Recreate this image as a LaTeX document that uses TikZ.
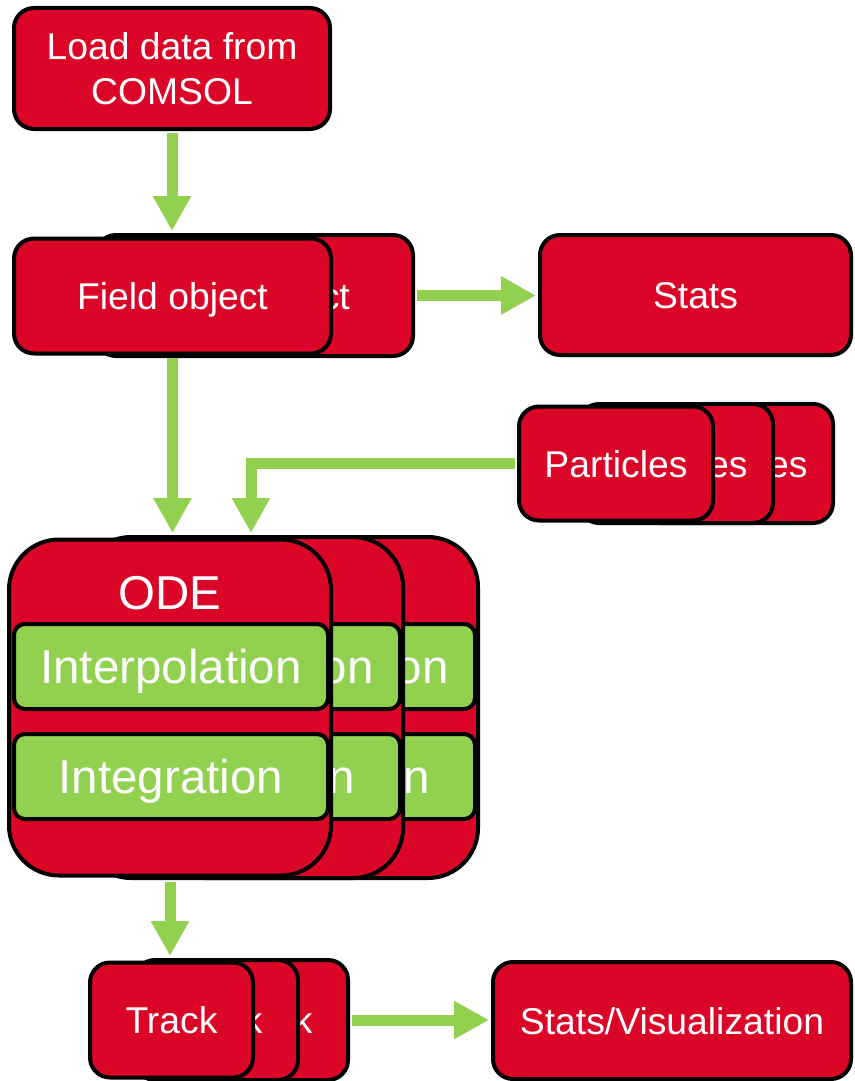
\documentclass[tikz,border=0pt]{standalone}
\usepackage{fontspec}
\setmainfont{Liberation Sans}
\usetikzlibrary{arrows.meta}
\definecolor{myred}{RGB}{219,5,40}
\definecolor{mygreen}{RGB}{146,208,80}
\newcommand{\fsmall}{\fontsize{37.3}{45}\selectfont}
\newcommand{\flarge}{\fontsize{47.5}{57}\selectfont}
\tikzset{
  redbox/.style={draw=black, line width=4pt, fill=myred, rounded corners=20pt,
    inner sep=0pt, text=white, font=\fsmall},
  oneline/.style={text height=27pt, text depth=0pt},
  odebox/.style={draw=black, line width=4pt, fill=myred, rounded corners=50pt,
    inner sep=0pt, minimum width=322pt},
  odetitle/.style={inner sep=0pt, text=white, font=\flarge, text height=34pt, text depth=0pt},
  greenbox/.style={draw=black, line width=4pt, fill=mygreen, rounded corners=11pt,
    inner sep=0pt, text=white, font=\flarge, text height=34pt, text depth=0pt,
    minimum width=314pt, minimum height=85pt},
  flow/.style={draw=mygreen, line width=11pt, line join=miter,
    -{Triangle[width=36pt,length=35pt]}, shorten >=2pt, shorten <=2pt},
}
\begin{document}
\begin{tikzpicture}[x=1pt,y=-1pt]
\useasboundingbox (0,0) rectangle (854,1081);

% Load data
\node[redbox, align=center, minimum width=316pt, minimum height=121pt] (load) at (172,68.5) {Load data from\\COMSOL};

% Field object stack
\node[redbox, oneline, minimum width=317pt, minimum height=121pt] (fieldB) at (254.5,295.5) {Field object};
\node[redbox, oneline, minimum width=317pt, minimum height=115pt] (field) at (172.5,296) {Field object};

% Stats
\node[redbox, oneline, minimum width=311pt, minimum height=120pt] (stats) at (695.5,295) {Stats};

% Particles stack
\node[redbox, oneline, minimum width=194pt, minimum height=119pt] (partC) at (736,463.5) {Particles};
\node[redbox, oneline, minimum width=194pt, minimum height=119pt] (partB) at (676,463.5) {Particles};
\node[redbox, oneline, minimum width=194pt, minimum height=114pt] (part) at (616,463.5) {Particles};

% ODE stack (back)
\node[odebox, minimum height=341pt] (odeC) at (317,707.5) {};
\node[odetitle] (odeCt) at (317,592) {ODE};
\node[greenbox] (interpC) at (318,666.5) {Interpolation};
\node[greenbox] (integC) at (318,776.5) {Integration};
% ODE stack (middle)
\node[odebox, minimum height=341pt] (odeB) at (242,707.5) {};
\node[odetitle] (odeBt) at (242,592) {ODE};
\node[greenbox] (interpB) at (243,666.5) {Interpolation};
\node[greenbox] (integB) at (243,776.5) {Integration};
% ODE stack (front)
\node[odebox, minimum height=336pt] (ode) at (170,707.5) {};
\node[odetitle] (odet) at (170,592) {ODE};
\node[greenbox] (interp) at (171,666.5) {Interpolation};
\node[greenbox] (integ) at (171,776.5) {Integration};

% Track stack
\node[redbox, oneline, minimum width=163pt, minimum height=120pt] (trackC) at (266.5,1020) {Track};
\node[redbox, oneline, minimum width=163pt, minimum height=120pt] (trackB) at (216.5,1020) {Track};
\node[redbox, oneline, minimum width=163pt, minimum height=115pt] (track) at (171.5,1020) {Track};

% Stats/Visualization
\node[redbox, oneline, minimum width=358pt, minimum height=117pt] (vis) at (672,1020.5) {Stats/Visualization};

% connectors
\coordinate (elbow) at (251,463.5);
\draw[flow] (load.south) -- (load.south |- fieldB.north);
\draw[flow] (fieldB.east) -- (fieldB.east -| stats.west);
\draw[flow] (field.south) -- (field.south |- odeC.north);
\draw[flow] (part.west) -- (elbow) -- (elbow |- odeC.north);
\draw[flow] (ode.south |- odeB.south) -- (ode.south |- trackC.north);
\draw[flow] (trackC.east) -- (trackC.east -| vis.west);
\end{tikzpicture}
\end{document}
